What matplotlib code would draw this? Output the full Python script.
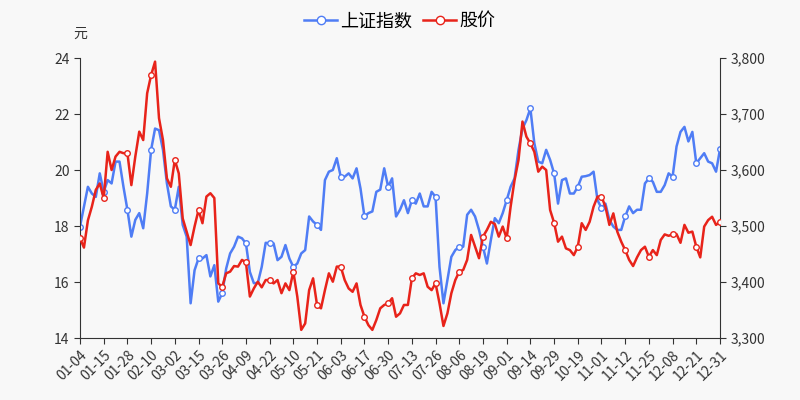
import matplotlib
matplotlib.use("Agg")
import matplotlib.pyplot as plt
from matplotlib.ticker import FuncFormatter

plt.rcParams["font.family"] = ["Noto Sans CJK SC", "DejaVu Sans"]

tick_labels = ["01-04", "01-15", "01-28", "02-10", "03-02", "03-15", "03-26", "04-09",
               "04-22", "05-10", "05-21", "06-03", "06-17", "06-30", "07-13", "07-26",
               "08-06", "08-19", "09-01", "09-14", "09-29", "10-19", "11-01", "11-12",
               "11-25", "12-08", "12-21", "12-31"]

price = [17.56, 17.23, 18.2, 18.69, 19.29, 19.52, 18.99, 20.65, 20.0, 20.48,
         20.65, 20.6, 20.6, 19.46, 20.48, 21.37, 21.07, 22.74, 23.39, 23.87,
         21.85, 21.07, 19.7, 19.4, 20.36, 19.88, 18.27, 17.8, 17.32, 17.98,
         18.57, 18.1, 19.05, 19.17, 19.0, 15.95, 15.83, 16.31, 16.37, 16.57,
         16.55, 16.79, 16.7, 15.48, 15.77, 16.01, 15.81, 16.07, 16.07, 15.95,
         16.07, 15.6, 15.95, 15.71, 16.37, 15.48, 14.29, 14.52, 15.71, 16.13,
         15.18, 15.06, 15.71, 16.31, 16.01, 16.55, 16.55, 16.07, 15.77, 15.65,
         15.95, 15.18, 14.76, 14.46, 14.29, 14.64, 15.06, 15.18, 15.24, 15.42,
         14.76, 14.88, 15.18, 15.18, 16.13, 16.31, 16.25, 16.31, 15.83, 15.71,
         15.95, 15.24, 14.43, 14.88, 15.6, 16.07, 16.37, 16.43, 16.79, 17.68,
         17.26, 16.85, 17.62, 17.86, 18.15, 18.07, 17.62, 17.98, 17.56, 18.69,
         19.64, 20.36, 21.73, 21.19, 20.95, 20.65, 19.94, 20.12, 20.0, 18.57,
         18.12, 17.44, 17.62, 17.2, 17.14, 16.96, 17.26, 18.1, 17.86, 18.15,
         18.69, 19.05, 19.05, 18.69, 18.04, 18.45, 17.8, 17.44, 17.14, 16.79,
         16.57, 16.88, 17.14, 17.26, 16.9, 17.14, 16.96, 17.5, 17.7, 17.65,
         17.7, 17.71, 17.4, 18.04, 17.76, 17.8, 17.26, 16.88, 17.98, 18.21,
         18.33, 18.04, 18.15]

index_vals = [3499, 3535, 3570, 3558, 3552, 3594, 3561, 3582, 3576, 3615,
              3615, 3570, 3529, 3481, 3511, 3523, 3496, 3558, 3636, 3674,
              3671, 3636, 3576, 3535, 3529, 3570, 3502, 3481, 3362, 3421,
              3442, 3442, 3448, 3410, 3430, 3365, 3380, 3424, 3451, 3463,
              3481, 3478, 3469, 3418, 3398, 3398, 3427, 3470, 3469, 3469,
              3439, 3445, 3466, 3442, 3427, 3433, 3451, 3457, 3517, 3508,
              3502, 3493, 3582, 3597, 3600, 3621, 3588, 3588, 3594, 3585,
              3603, 3567, 3517, 3523, 3526, 3561, 3565, 3603, 3570, 3585,
              3517, 3529, 3546, 3523, 3546, 3540, 3558, 3535, 3535, 3561,
              3552, 3427, 3362, 3404, 3445, 3457, 3463, 3463, 3520, 3529,
              3517, 3493, 3463, 3433, 3475, 3514, 3505, 3523, 3546, 3570,
              3585, 3636, 3674, 3689, 3710, 3648, 3615, 3612, 3636, 3618,
              3594, 3540, 3582, 3585, 3558, 3558, 3570, 3588, 3589, 3591,
              3597, 3546, 3532, 3540, 3511, 3499, 3493, 3493, 3517, 3535,
              3523, 3529, 3529, 3576, 3585, 3579, 3561, 3561, 3573, 3594,
              3588, 3642, 3668, 3677, 3651, 3668, 3612, 3621, 3630, 3615,
              3612, 3597, 3637]

BLUE = "#4f7df5"
RED = "#e8231a"
AX = "#333333"

n = len(price)
x = list(range(n))
step = (n - 1) // (len(tick_labels) - 1)
tick_pos = [i * step for i in range(len(tick_labels))]

fig = plt.figure(figsize=(8, 4), dpi=100, facecolor="#f8f8f8")
ax = fig.add_axes([0.1, 0.155, 0.8, 0.7])
ax.set_facecolor("#f8f8f8")
ax2 = ax.twinx()

ax.plot(x, price, color=RED, lw=1.8, marker="o", markevery=step, ms=4,
        mfc="white", mec=RED, mew=1, zorder=3)
ax2.plot(x, index_vals, color=BLUE, lw=1.8, marker="o", markevery=step, ms=4,
         mfc="white", mec=BLUE, mew=1, zorder=2)
ax.set_zorder(ax2.get_zorder() + 1)
ax.patch.set_visible(False)

ax.set_xlim(0, n - 1)
ax.set_ylim(14, 24)
ax.set_yticks([14, 16, 18, 20, 22, 24])
ax2.set_ylim(3300, 3800)
ax2.set_yticks(range(3300, 3801, 100))
ax2.yaxis.set_major_formatter(FuncFormatter(lambda v, p: f"{int(v):,}"))
ax.set_xticks(tick_pos)
ax.set_xticklabels(tick_labels, rotation=45, ha="right", rotation_mode="anchor")

for a in (ax, ax2):
    a.spines["top"].set_visible(False)
    for s in ("left", "right", "bottom"):
        a.spines[s].set_color(AX)
    a.tick_params(colors=AX, labelsize=10, labelcolor="#333333", length=4)
ax.spines["right"].set_visible(False)
ax2.spines["left"].set_visible(False)
ax2.spines["bottom"].set_visible(False)

fig.text(0.1, 0.905, "元", fontsize=10, color="#333333", ha="center")

from matplotlib.lines import Line2D
handles = [Line2D([], [], color=BLUE, lw=1.8, marker="o", ms=6, mfc="white", mec=BLUE),
           Line2D([], [], color=RED, lw=1.8, marker="o", ms=6, mfc="white", mec=RED)]
fig.legend(handles, ["上证指数", "股价"], loc="upper center", bbox_to_anchor=(0.5, 1.01),
           ncol=2, frameon=False, fontsize=13, handlelength=1.8, handletextpad=0.2,
           columnspacing=0.6)

fig.savefig("out.png", dpi=100, facecolor=fig.get_facecolor())
